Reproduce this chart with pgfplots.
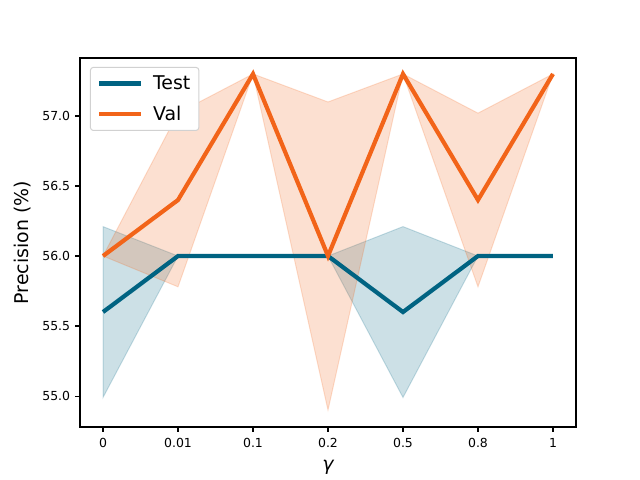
\documentclass[border=0pt]{standalone}
\usepackage{pgfplots}
\pgfplotsset{compat=1.18}
\usepackage{fontspec}
\setmainfont{DejaVu Sans}
\definecolor{testc}{RGB}{0,99,130}
\definecolor{valc}{RGB}{242,100,25}
\begin{document}
\begin{tikzpicture}
\path[use as bounding box] (-80bp,-53bp) rectangle (560bp,427bp);
\begin{axis}[
  scale only axis, width=496bp, height=369bp,
  at={(0,0)}, anchor=south west,
  xmin=-0.307, xmax=6.307, ymin=54.779, ymax=57.414,
  xtick={0,1,2,3,4,5,6},
  xticklabels={0,0.01,0.1,0.2,0.5,0.8,1},
  ytick={55,55.5,56,56.5,57},
  yticklabel style={xshift=-1.5bp, /pgf/number format/.cd, fixed, fixed zerofill, precision=1},
  /pgf/number format/assume math mode=true,
  tick align=outside, major tick length=4.9bp,
  tick style={line width=1.1bp, black},
  axis line style={line width=1.1bp},
  xtick pos=bottom, ytick pos=left,
  tick label style={font=\fontsize{12.5}{14}\selectfont},
  xticklabel style={yshift=-3bp},
  xlabel={\itshape γ},
  ylabel={Precision (\%)},
  xlabel style={font=\fontsize{19}{22}\selectfont, at={(axis description cs:0.5,0)}, anchor=center, yshift=-40bp},
  ylabel style={font=\fontsize{19}{22}\selectfont, at={(axis description cs:-0.116,0.5)}, anchor=center},
  legend style={at={(axis description cs:0.02,0.976)}, anchor=north west,
    draw=black!18, rounded corners=3bp, line width=1bp,
    font=\fontsize{19}{22}\selectfont, inner xsep=6.5bp, inner ysep=6.5bp, row sep=11bp,
    /tikz/every odd column/.append style={column sep=8bp}},
  legend cell align=left,
  legend image code/.code={\draw[#1, line width=4.2bp] (0bp,0bp) -- (42bp,0bp);},
]
\addplot[fill=testc, draw=testc, opacity=0.2, line width=1bp, forget plot] coordinates {
  (0,54.99) (1,56.0) (2,56.0) (3,56.0) (4,54.99) (5,56.0) (6,56.0)
  (6,56.0) (5,56.0) (4,56.21) (3,56.0) (2,56.0) (1,56.0) (0,56.21)} -- cycle;
\addplot[fill=valc, draw=valc, opacity=0.2, line width=1bp, forget plot] coordinates {
  (0,56.0) (1,55.78) (2,57.3) (3,54.9) (4,57.3) (5,55.78) (6,57.3)
  (6,57.3) (5,57.02) (4,57.3) (3,57.1) (2,57.3) (1,57.02) (0,56.0)} -- cycle;
\addplot[testc, line width=4.2bp] coordinates {
  (0,55.6) (1,56.0) (2,56.0) (3,56.0) (4,55.6) (5,56.0) (6,56.0)};
\addlegendentry{Test}
\addplot[valc, line width=4.2bp] coordinates {
  (0,56.0) (1,56.4) (2,57.3) (3,56.0) (4,57.3) (5,56.4) (6,57.3)};
\addlegendentry{Val}
\end{axis}
\end{tikzpicture}
\end{document}
